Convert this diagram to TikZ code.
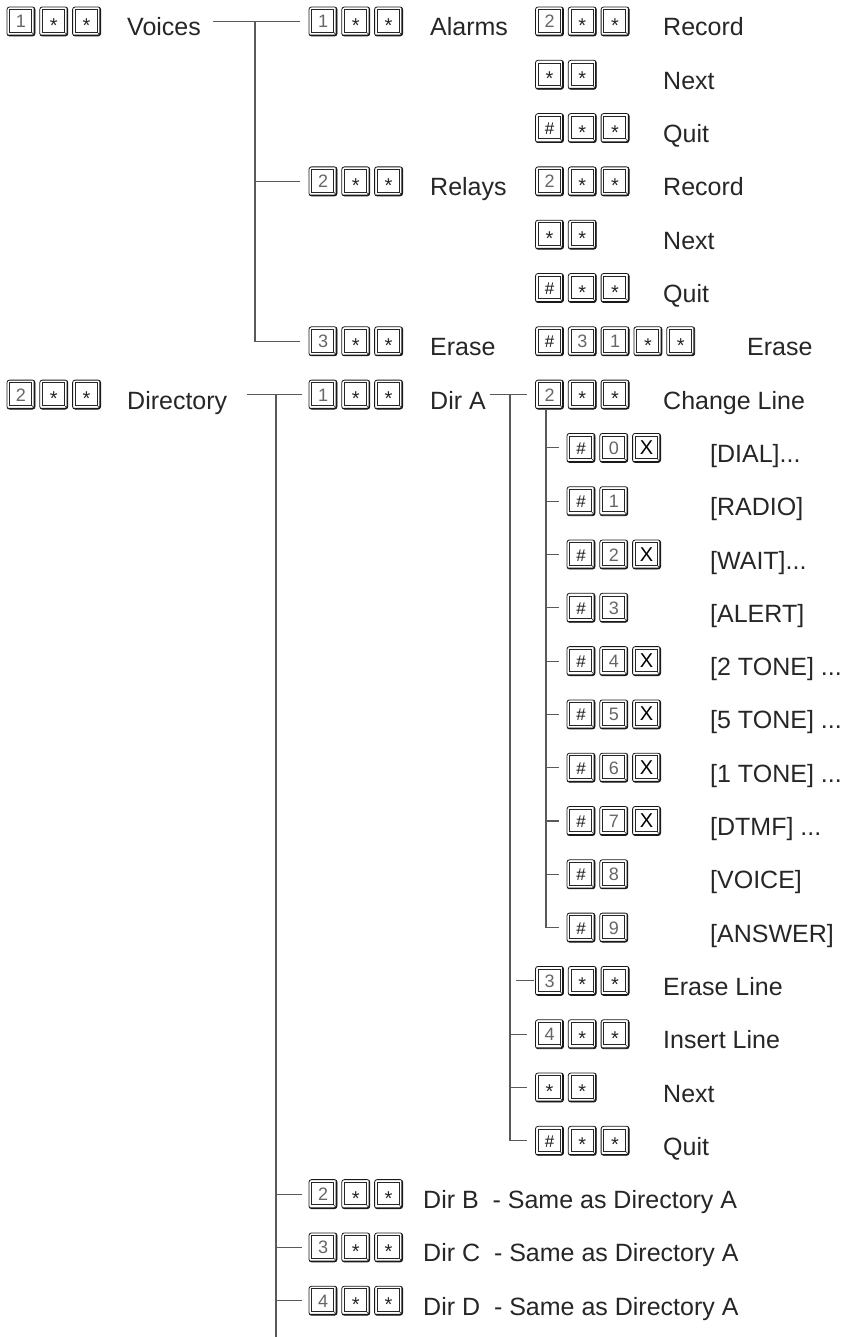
\documentclass[tikz,border=0pt]{standalone}
\usepackage{fontspec}
\setmainfont{Liberation Sans}
\usetikzlibrary{positioning,calc}
\newcommand{\lblfont}{\fontsize{25}{30}\selectfont}
\newcommand{\keyfont}{\fontsize{18}{20}\selectfont}
\newcommand{\st}{\raisebox{-4.5pt}{\fontsize{20}{20}\selectfont\color{black!85}*}}
\newcommand{\kx}{{\fontsize{20}{20}\selectfont\color{black}X}}
\newcommand{\kh}{{\fontsize{17}{20}\selectfont\color{black!90}\#}}
\tikzset{keycap/.style={draw=black!90,line width=0.8pt,rounded corners=2.5pt,fill=white,minimum width=28pt,minimum height=29pt,inner sep=0pt,text height=13pt,text depth=0pt,font=\keyfont,text=black!60,
  path picture={
    \draw[black!90,line width=2.6pt] (path picture bounding box.south west) -- (path picture bounding box.south east) -- (path picture bounding box.north east);
    \draw[black!85,line width=0.5pt,sharp corners] ([shift={(2.5pt,-2.5pt)}]path picture bounding box.north west) rectangle ([shift={(-3.5pt,4pt)}]path picture bounding box.south east);
    \draw[black!85,line width=0.5pt] ([shift={(-3.5pt,4pt)}]path picture bounding box.south east) -- (path picture bounding box.south east);}},
  lbl/.style={anchor=base west,inner sep=0pt,font=\lblfont,text=black!85},
  link/.style={draw=black!65,line width=1.1pt}}
\begin{document}
\begin{tikzpicture}[x=1pt,y=-1pt,node distance=4pt]
\useasboundingbox (0,0) rectangle (851,1337);
% Voices
\node[keycap] (kvo1) at (21,21.5) {1};
\node[keycap,right=of kvo1] (kvo2) {\st};
\node[keycap,right=of kvo2] (kvo3) {\st};
\node[lbl] (voices) at (127,36) {Voices};
\node[keycap] (kal1) at (323,21.5) {1};
\node[keycap,right=of kal1] (kal2) {\st};
\node[keycap,right=of kal2] (kal3) {\st};
\node[lbl] (alarms) at (430,36) {Alarms};
\node[keycap] (karec1) at (549.5,21.5) {2};
\node[keycap,right=of karec1] (karec2) {\st};
\node[keycap,right=of karec2] (karec3) {\st};
\node[lbl] (arec) at (663,36) {Record};
\node[keycap] (kanx1) at (549.5,74.8) {\st};
\node[keycap,right=of kanx1] (kanx2) {\st};
\node[lbl] (anext) at (663,89.3) {Next};
\node[keycap] (kaq1) at (549.5,128.1) {\kh};
\node[keycap,right=of kaq1] (kaq2) {\st};
\node[keycap,right=of kaq2] (kaq3) {\st};
\node[lbl] (aquit) at (663,142.6) {Quit};
\node[keycap] (krl1) at (323,181.4) {2};
\node[keycap,right=of krl1] (krl2) {\st};
\node[keycap,right=of krl2] (krl3) {\st};
\node[lbl] (relays) at (430,195.9) {Relays};
\node[keycap] (krrec1) at (549.5,181.4) {2};
\node[keycap,right=of krrec1] (krrec2) {\st};
\node[keycap,right=of krrec2] (krrec3) {\st};
\node[lbl] (rrec) at (663,195.9) {Record};
\node[keycap] (krnx1) at (549.5,234.7) {\st};
\node[keycap,right=of krnx1] (krnx2) {\st};
\node[lbl] (rnext) at (663,249.2) {Next};
\node[keycap] (krq1) at (549.5,288) {\kh};
\node[keycap,right=of krq1] (krq2) {\st};
\node[keycap,right=of krq2] (krq3) {\st};
\node[lbl] (rquit) at (663,302.5) {Quit};
\node[keycap] (ker1) at (323,341.3) {3};
\node[keycap,right=of ker1] (ker2) {\st};
\node[keycap,right=of ker2] (ker3) {\st};
\node[lbl] (erase) at (430,355.8) {Erase};
\node[keycap] (kec1) at (549.5,341.3) {\kh};
\node[keycap,right=of kec1] (kec2) {3};
\node[keycap,right=of kec2] (kec3) {1};
\node[keycap,right=of kec3] (kec4) {\st};
\node[keycap,right=of kec4] (kec5) {\st};
\node[lbl] (eraseall) at (747,355.8) {Erase};
% Directory
\node[keycap] (kdi1) at (21,394.6) {2};
\node[keycap,right=of kdi1] (kdi2) {\st};
\node[keycap,right=of kdi2] (kdi3) {\st};
\node[lbl] (directory) at (127,409.1) {Directory};
\node[keycap] (kda1) at (323,394.6) {1};
\node[keycap,right=of kda1] (kda2) {\st};
\node[keycap,right=of kda2] (kda3) {\st};
\node[lbl] (dira) at (430,409.1) {Dir A};
\node[keycap] (kcl1) at (549.5,394.6) {2};
\node[keycap,right=of kcl1] (kcl2) {\st};
\node[keycap,right=of kcl2] (kcl3) {\st};
\node[lbl] (chline) at (663,409.1) {Change Line};
\node[keycap] (kp0a) at (581,447.9) {\kh};
\node[keycap,right=of kp0a] (kp0b) {0};
\node[keycap,right=of kp0b] (kp0c) {\kx};
\node[lbl] (dial) at (710,462.4) {[DIAL]...};
\node[keycap] (kp1a) at (581,501.2) {\kh};
\node[keycap,right=of kp1a] (kp1b) {1};
\node[lbl] (radio) at (710,515.7) {[RADIO]};
\node[keycap] (kp2a) at (581,554.5) {\kh};
\node[keycap,right=of kp2a] (kp2b) {2};
\node[keycap,right=of kp2b] (kp2c) {\kx};
\node[lbl] (wait) at (710,569) {[WAIT]...};
\node[keycap] (kp3a) at (581,607.8) {\kh};
\node[keycap,right=of kp3a] (kp3b) {3};
\node[lbl] (alert) at (710,622.3) {[ALERT]};
\node[keycap] (kp4a) at (581,661.1) {\kh};
\node[keycap,right=of kp4a] (kp4b) {4};
\node[keycap,right=of kp4b] (kp4c) {\kx};
\node[lbl] (twotone) at (710,675.6) {[2 TONE] ...};
\node[keycap] (kp5a) at (581,714.4) {\kh};
\node[keycap,right=of kp5a] (kp5b) {5};
\node[keycap,right=of kp5b] (kp5c) {\kx};
\node[lbl] (fivetone) at (710,728.9) {[5 TONE] ...};
\node[keycap] (kp6a) at (581,767.7) {\kh};
\node[keycap,right=of kp6a] (kp6b) {6};
\node[keycap,right=of kp6b] (kp6c) {\kx};
\node[lbl] (onetone) at (710,782.2) {[1 TONE] ...};
\node[keycap] (kp7a) at (581,821) {\kh};
\node[keycap,right=of kp7a] (kp7b) {7};
\node[keycap,right=of kp7b] (kp7c) {\kx};
\node[lbl] (dtmf) at (710,835.5) {[DTMF] ...};
\node[keycap] (kp8a) at (581,874.3) {\kh};
\node[keycap,right=of kp8a] (kp8b) {8};
\node[lbl] (voice) at (710,888.8) {[VOICE]};
\node[keycap] (kp9a) at (581,927.6) {\kh};
\node[keycap,right=of kp9a] (kp9b) {9};
\node[lbl] (answer) at (710,942.1) {[ANSWER]};
\node[keycap] (kel1) at (549.5,980.9) {3};
\node[keycap,right=of kel1] (kel2) {\st};
\node[keycap,right=of kel2] (kel3) {\st};
\node[lbl] (erline) at (663,995.4) {Erase Line};
\node[keycap] (kil1) at (549.5,1034.2) {4};
\node[keycap,right=of kil1] (kil2) {\st};
\node[keycap,right=of kil2] (kil3) {\st};
\node[lbl] (insline) at (663,1048.7) {Insert Line};
\node[keycap] (knx1) at (549.5,1087.5) {\st};
\node[keycap,right=of knx1] (knx2) {\st};
\node[lbl] (next) at (663,1102) {Next};
\node[keycap] (kqt1) at (549.5,1140.8) {\kh};
\node[keycap,right=of kqt1] (kqt2) {\st};
\node[keycap,right=of kqt2] (kqt3) {\st};
\node[lbl] (quit) at (663,1155.3) {Quit};
\node[keycap] (kdb1) at (323,1194.1) {2};
\node[keycap,right=of kdb1] (kdb2) {\st};
\node[keycap,right=of kdb2] (kdb3) {\st};
\node[lbl] (dirb) at (423,1208.6) {Dir B~~- Same as Directory A};
\node[keycap] (kdc1) at (323,1247.4) {3};
\node[keycap,right=of kdc1] (kdc2) {\st};
\node[keycap,right=of kdc2] (kdc3) {\st};
\node[lbl] (dirc) at (423,1261.9) {Dir C~~- Same as Directory A};
\node[keycap] (kdd1) at (323,1300.7) {4};
\node[keycap,right=of kdd1] (kdd2) {\st};
\node[keycap,right=of kdd2] (kdd3) {\st};
\node[lbl] (dird) at (423,1315.2) {Dir D~~- Same as Directory A};
% tree lines
\coordinate (vstart) at (213,21.5);
\coordinate (vfork) at (255,21.5);
\draw[link] (vstart) -- ([xshift=-9pt]kal1.west);
\draw[link] (vfork) |- ([xshift=-9pt]ker1.west);
\draw[link] (vfork |- krl1) -- ([xshift=-9pt]krl1.west);
\coordinate (dstart) at (247,394.6);
\coordinate (dfork) at (276,394.6);
\coordinate (dend) at (276,1337);
\draw[link] (dstart) -- ([xshift=-7pt]kda1.west);
\draw[link] (dfork) -- (dend);
\draw[link] (dfork |- kdb1) -- ([xshift=-7pt]kdb1.west);
\draw[link] (dfork |- kdc1) -- ([xshift=-7pt]kdc1.west);
\draw[link] (dfork |- kdd1) -- ([xshift=-7pt]kdd1.west);
\coordinate (astart) at (490,394.6);
\coordinate (afork) at (510,394.6);
\draw[link] (astart) -- ([xshift=-8pt]kcl1.west);
\draw[link] (afork) |- ([xshift=-8pt]kqt1.west);
\draw[link] ([xshift=-19pt]kel1.west) -- ([xshift=-1pt]kel1.west);
\draw[link] (afork |- kil1) -- ([xshift=-8pt]kil1.west);
\draw[link] (afork |- knx1) -- ([xshift=-8pt]knx1.west);
\coordinate (cfork) at ([xshift=-3.5pt]kcl1.south);
\draw[link] (cfork) |- ([xshift=-8pt]kp9a.west);
\foreach \k in {kp0a,kp1a,kp2a,kp3a,kp4a,kp5a,kp6a,kp7a,kp8a}
  \draw[link] (cfork |- \k) -- ([xshift=-8pt]\k.west);
\end{tikzpicture}
\end{document}
